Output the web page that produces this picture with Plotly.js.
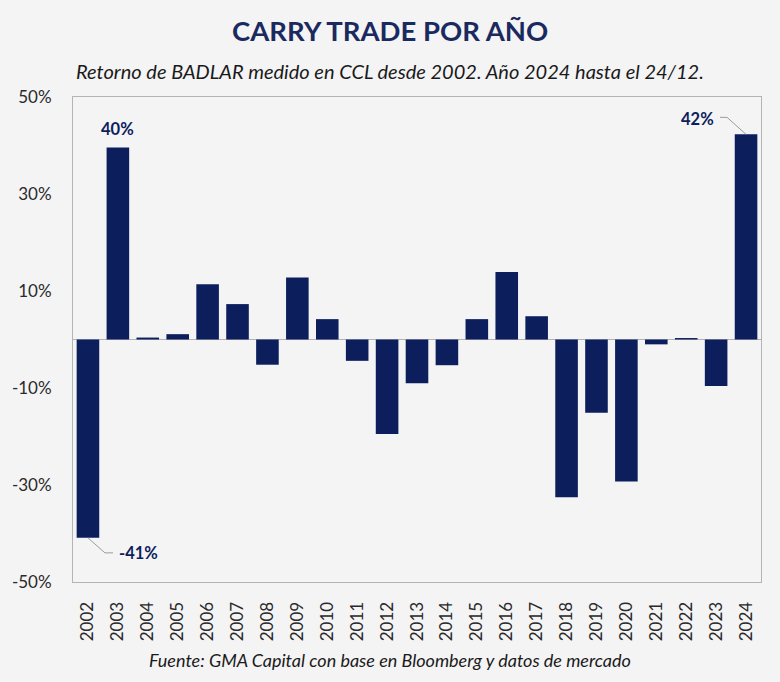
<!DOCTYPE html>
<html>
<head>
<meta charset="utf-8">
<script src="https://cdn.plot.ly/plotly-3.0.1.min.js"></script>
<style>
  html, body { margin: 0; padding: 0; background: #f4f4f5; }
  #chart { width: 780px; height: 682px; }
</style>
</head>
<body>
<div id="chart"></div>
<script>
// Annual carry-trade return (BADLAR measured in CCL), percent
const years = ['2002','2003','2004','2005','2006','2007','2008','2009','2010','2011','2012',
               '2013','2014','2015','2016','2017','2018','2019','2020','2021','2022','2023','2024'];
const returns = [-40.9, 39.6, 0.4, 1.1, 11.4, 7.3, -5.2, 12.8, 4.2, -4.4, -19.5,
                 -9.0, -5.3, 4.2, 13.9, 4.8, -32.5, -15.1, -29.3, -1.0, 0.3, -9.6, 42.3];
const yTicks = [-50, -30, -10, 10, 30, 50];

const navy = '#0c1f5c';
const frame = '#b4b4b8';

const W = 780, H = 682;
const margin = { l: 73, r: 19, t: 97, b: 100 };
// horizontal page centre expressed as a fraction of the plot width
const pageMid = (W / 2 - margin.l) / (W - margin.l - margin.r);

const pct = v => Math.round(v) + '%';
const idx = y => years.indexOf(y);

const labelFont = { family: 'Lato', size: 16.5, color: navy };
const annotations = [];
const shapes = [];

// 2002: label below-right of the bar end, elbow leader
{
  const i = idx('2002'), v = returns[i];
  annotations.push({ x: i, y: v, xref: 'x', yref: 'y', text: '<b>' + pct(v) + '</b>',
    showarrow: false, xanchor: 'left', yanchor: 'middle', xshift: 29, yshift: -15,
    font: labelFont });
  shapes.push({ type: 'path', xref: 'x', yref: 'y', xsizemode: 'pixel', ysizemode: 'pixel',
    xanchor: i, yanchor: v, path: 'M0,0 L17,-15 L25,-15',
    line: { color: '#9a9aa0', width: 1 } });
}
// 2003: label directly above the bar
{
  const i = idx('2003'), v = returns[i];
  annotations.push({ x: i, y: v, xref: 'x', yref: 'y', text: '<b>' + pct(v) + '</b>',
    showarrow: false, xanchor: 'center', yanchor: 'middle', yshift: 18,
    font: labelFont });
}
// 2024: label up-left of the bar top, elbow leader
{
  const i = idx('2024'), v = returns[i];
  annotations.push({ x: i, y: v, xref: 'x', yref: 'y', text: '<b>' + pct(v) + '</b>',
    showarrow: false, xanchor: 'right', yanchor: 'middle', xshift: -30, yshift: 15,
    font: labelFont });
  shapes.push({ type: 'path', xref: 'x', yref: 'y', xsizemode: 'pixel', ysizemode: 'pixel',
    xanchor: i, yanchor: v, path: 'M0,0 L-19,17 L-26,17',
    line: { color: '#9a9aa0', width: 1 } });
}

// title, subtitle and source
annotations.push(
  { xref: 'paper', yref: 'paper', x: pageMid, y: 1, yshift: 67, text: '<b>CARRY TRADE POR AÑO</b>',
    showarrow: false, xanchor: 'center', yanchor: 'middle',
    font: { family: 'Lato', size: 27.5, color: '#1b2a5e' } },
  { xref: 'paper', yref: 'paper', x: pageMid, y: 1, yshift: 26,
    text: '<i>Retorno de BADLAR medido en CCL desde 2002. Año 2024 hasta el 24/12.</i>',
    showarrow: false, xanchor: 'center', yanchor: 'middle',
    font: { family: 'Lato', size: 20, color: '#1a1a1a' } },
  { xref: 'paper', yref: 'paper', x: pageMid, y: 0, yshift: -78,
    text: '<i>Fuente: GMA Capital con base en Bloomberg y datos de mercado</i>',
    showarrow: false, xanchor: 'center', yanchor: 'middle',
    font: { family: 'Lato', size: 18, color: '#1a1a1a' } }
);

const trace = {
  type: 'bar',
  x: years,
  y: returns,
  marker: { color: navy, line: { width: 0 } },
  hoverinfo: 'x+y'
};

const layout = {
  width: W, height: H,
  margin: margin,
  paper_bgcolor: '#f4f4f5',
  plot_bgcolor: '#f4f4f5',
  bargap: 0.245,
  showlegend: false,
  font: { family: 'Lato', color: '#2a2a2a' },
  xaxis: {
    type: 'category',
    tickangle: -90,
    tickfont: { family: 'Lato', size: 17, color: '#2a2a2a' },
    showgrid: false, zeroline: false,
    showline: true, mirror: true, linecolor: frame, linewidth: 1,
    ticks: '', ticklabelstandoff: 12
  },
  yaxis: {
    range: [-50, 50],
    tickvals: yTicks,
    ticktext: yTicks.map(v => v + '%'),
    tickfont: { family: 'Lato', size: 17, color: '#2a2a2a' },
    showgrid: false,
    zeroline: true, zerolinecolor: frame, zerolinewidth: 1.5,
    showline: true, mirror: true, linecolor: frame, linewidth: 1,
    ticks: '', ticklabelstandoff: 17
  },
  shapes: shapes,
  annotations: annotations
};

Plotly.newPlot('chart', [trace], layout, { displayModeBar: false, staticPlot: true });
</script>
</body>
</html>
